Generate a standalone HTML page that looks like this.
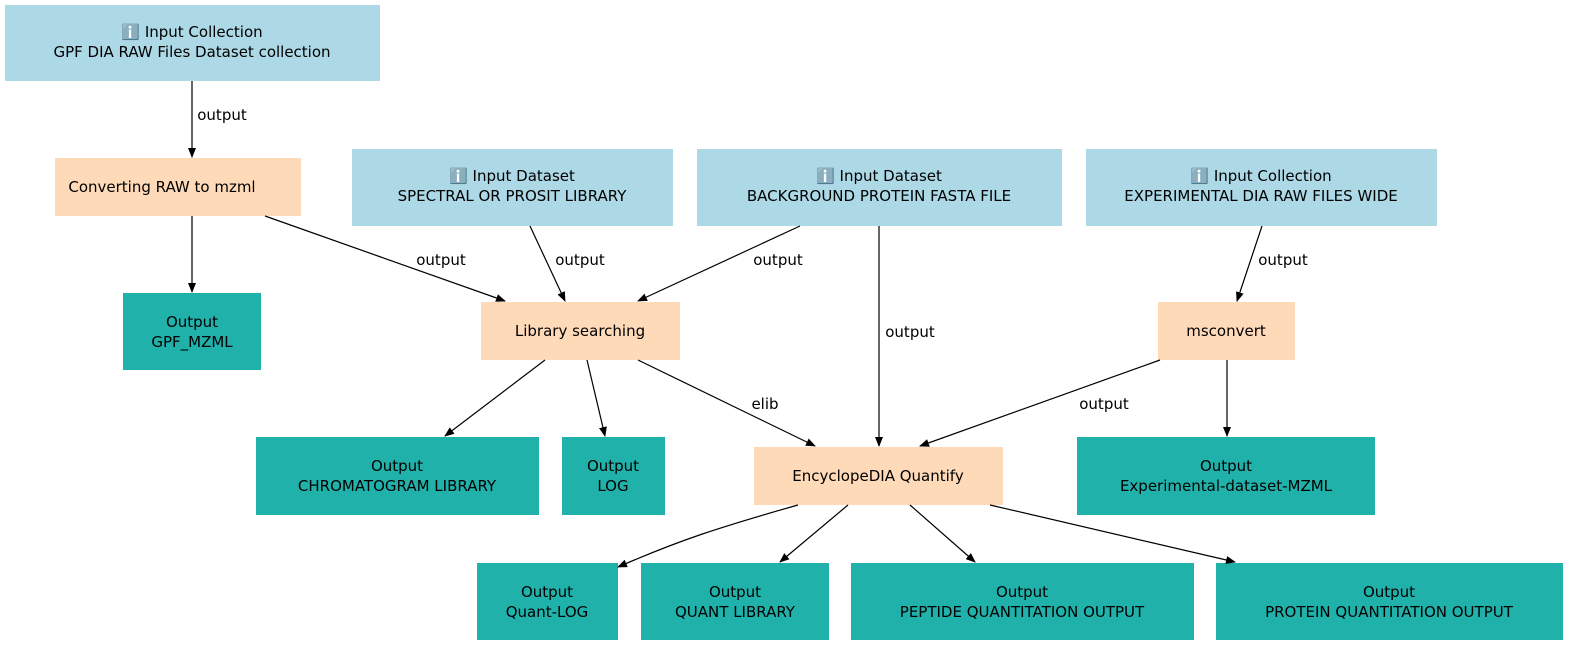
<!DOCTYPE html>
<html><head><meta charset="utf-8"><style>
html,body{margin:0;padding:0;background:#fff;}
svg{display:block;}
text{font-family:"DejaVu Sans","Liberation Sans",sans-serif;font-size:15px;fill:#000;}
</style></head><body>
<svg width="1579" height="651" viewBox="0 0 1579 651" xmlns="http://www.w3.org/2000/svg">
<defs><marker id="a" markerWidth="10" markerHeight="8" refX="9" refY="4" orient="auto" markerUnits="userSpaceOnUse"><path d="M0,0 L10,4 L0,8 z" fill="#000"/></marker></defs>
<g fill="#add8e6">
<rect x="5" y="5" width="375" height="76"/>
<rect x="352" y="149" width="321" height="77"/>
<rect x="697" y="149" width="365" height="77"/>
<rect x="1086" y="149" width="351" height="77"/>
</g>
<g fill="#ffdab9">
<rect x="55" y="158" width="246" height="58"/>
<rect x="481" y="302" width="199" height="58"/>
<rect x="1158" y="302" width="137" height="58"/>
<rect x="754" y="447" width="249" height="58"/>
</g>
<g fill="#20b2aa">
<rect x="123" y="293" width="138" height="77"/>
<rect x="256" y="437" width="283" height="78"/>
<rect x="562" y="437" width="103" height="78"/>
<rect x="1077" y="437" width="298" height="78"/>
<rect x="477" y="563" width="141" height="77"/>
<rect x="641" y="563" width="188" height="77"/>
<rect x="851" y="563" width="343" height="77"/>
<rect x="1216" y="563" width="347" height="77"/>
</g>
<g stroke="#000" stroke-width="1.2" fill="none" marker-end="url(#a)">
<path d="M192,81 L192,157"/>
<path d="M192,216 L192,292"/>
<path d="M265,216 L505,301"/>
<path d="M530,226 L565,301"/>
<path d="M800,226 L638,301"/>
<path d="M879,226 L879,446"/>
<path d="M1262,226 L1237,301"/>
<path d="M1227,360 L1227,436"/>
<path d="M1160,360 L920,446"/>
<path d="M545,360 L445,436"/>
<path d="M587,360 L605,436"/>
<path d="M638,360 L815,446"/>
<path d="M798,505 C720,527 680,540 618,567"/>
<path d="M848,505 L780,562"/>
<path d="M910,505 L975,562"/>
<path d="M990,505 L1235,562"/>
</g>
<g text-anchor="middle">
<text x="192" y="37">ℹ️ Input Collection</text><text x="192" y="57">GPF DIA RAW Files Dataset collection</text>
<text x="512" y="181">ℹ️ Input Dataset</text><text x="512" y="201">SPECTRAL OR PROSIT LIBRARY</text>
<text x="879" y="181">ℹ️ Input Dataset</text><text x="879" y="201">BACKGROUND PROTEIN FASTA FILE</text>
<text x="1261" y="181">ℹ️ Input Collection</text><text x="1261" y="201">EXPERIMENTAL DIA RAW FILES WIDE</text>
<text x="162" y="192">Converting RAW to mzml</text>
<text x="580" y="336">Library searching</text>
<text x="1226" y="336">msconvert</text>
<text x="878" y="481">EncyclopeDIA Quantify</text>
<text x="192" y="327">Output</text><text x="192" y="347">GPF_MZML</text>
<text x="397" y="471">Output</text><text x="397" y="491">CHROMATOGRAM LIBRARY</text>
<text x="613" y="471">Output</text><text x="613" y="491">LOG</text>
<text x="1226" y="471">Output</text><text x="1226" y="491">Experimental-dataset-MZML</text>
<text x="547" y="597">Output</text><text x="547" y="617">Quant-LOG</text>
<text x="735" y="597">Output</text><text x="735" y="617">QUANT LIBRARY</text>
<text x="1022" y="597">Output</text><text x="1022" y="617">PEPTIDE QUANTITATION OUTPUT</text>
<text x="1389" y="597">Output</text><text x="1389" y="617">PROTEIN QUANTITATION OUTPUT</text>
<text x="222" y="120">output</text>
<text x="441" y="265">output</text>
<text x="580" y="265">output</text>
<text x="778" y="265">output</text>
<text x="910" y="337">output</text>
<text x="1283" y="265">output</text>
<text x="1104" y="409">output</text>
<text x="765" y="409">elib</text>
</g>
</svg>
</body></html>
